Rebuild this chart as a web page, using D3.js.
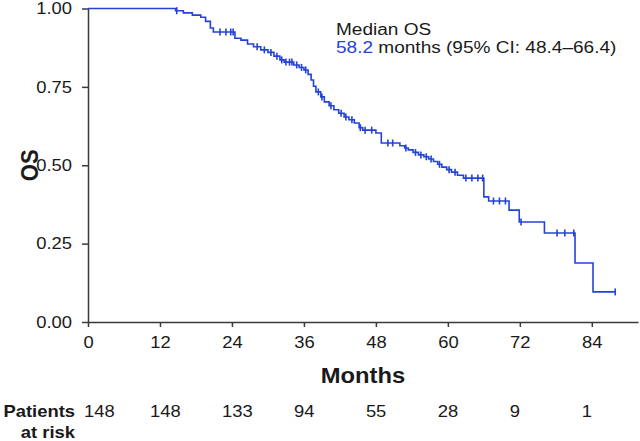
<!DOCTYPE html>
<html>
<head>
<meta charset="utf-8">
<script src="https://cdn.jsdelivr.net/npm/d3@7"></script>
<style>
  body { margin: 0; background: #fff; }
  svg { display: block; font-family: "Liberation Sans", Arial, sans-serif; }
</style>
</head>
<body>
<div id="chart"></div>
<script>
// Kaplan-Meier steps
const eventMonths = [14.6, 15.9, 17.4, 18.8, 19.6, 20.4, 20.9, 24.5, 25.5, 26.6, 27.6, 28.8, 30.0, 31.0, 32.0, 32.7,
  34.3, 35.2, 36.0, 36.7, 37.2, 37.6, 38.0, 38.8, 39.4, 40.2, 41.0, 41.8, 42.7, 43.5, 44.4, 45.2, 45.8, 48.0, 48.9,
  52.0, 52.8, 53.4, 54.2, 55.1, 56.0, 56.8, 57.6, 58.3, 59.0, 59.8, 60.6, 61.6, 62.6, 66.0, 66.8, 70.2, 71.9, 76.1,
  81.2, 84.2];
const survival = [0.993, 0.986, 0.979, 0.972, 0.959, 0.938, 0.925, 0.905, 0.899, 0.887, 0.878, 0.868, 0.860, 0.848,
  0.836, 0.829, 0.820, 0.812, 0.804, 0.790, 0.772, 0.752, 0.734, 0.718, 0.702, 0.690, 0.677, 0.666, 0.654, 0.645,
  0.635, 0.620, 0.612, 0.603, 0.571, 0.562, 0.555, 0.549, 0.541, 0.533, 0.527, 0.520, 0.512, 0.503, 0.494, 0.486,
  0.478, 0.468, 0.459, 0.399, 0.386, 0.357, 0.319, 0.284, 0.188, 0.096];
const censorMonths = [14.8, 22.0, 23.0, 23.8, 24.2, 28.2, 29.4, 30.5, 31.5, 32.3, 33.0, 33.6, 34.0, 34.8, 35.6, 36.3,
  38.4, 39.0, 40.5, 42.2, 43.0, 44.0, 45.4, 46.2, 47.3, 50.0, 50.8, 53.0, 54.6, 55.5, 56.4, 57.2, 58.6, 60.2, 61.2,
  63.0, 64.0, 65.0, 65.8, 67.6, 68.6, 69.6, 72.2, 78.2, 79.5, 81.0, 87.9];
const lastMonth = 87.9;

const yTicks = [0, 0.25, 0.5, 0.75, 1];
const xTicks = [0, 12, 24, 36, 48, 60, 72, 84];
const riskMonths = [0, 12, 24, 36, 48, 60, 72, 84];
const atRisk = [148, 148, 133, 94, 55, 28, 9, 1];

const width = 640, height = 441;
const blue = '#2443d6';
const axisColor = '#3a3a3a';
const sx = 1.15; // text in the picture is slightly stretched sideways

const svg = d3.select('#chart').append('svg')
    .attr('width', width)
    .attr('height', height);

const x = d3.scaleLinear().domain([0, 91.7]).range([88, 638]);
const y = d3.scaleLinear().domain([0, 1]).range([322, 8.5]);

function survAt(t) {
    let s = 1;
    eventMonths.forEach((m, i) => { if (m <= t) s = survival[i]; });
    return s;
}

// axes
const xAxis = svg.append('g')
    .attr('transform', `translate(0,${y(0)})`)
    .call(d3.axisBottom(x).tickValues(xTicks).tickSize(5).tickSizeOuter(0).tickPadding(10));
const yAxis = svg.append('g')
    .attr('transform', `translate(${x(0)},0)`)
    .call(d3.axisLeft(y).tickValues(yTicks).tickFormat(d3.format('.2f')).tickSize(6).tickSizeOuter(0).tickPadding(10));

[xAxis, yAxis].forEach(g => {
    g.select('.domain').attr('stroke', axisColor).attr('stroke-width', 1.5);
    g.selectAll('.tick line').attr('stroke', axisColor).attr('stroke-width', 1.5);
    g.selectAll('.tick text')
        .attr('fill', '#1a1a1a')
        .attr('font-size', 16)
        .attr('font-family', '"Liberation Sans", Arial, sans-serif');
});
xAxis.selectAll('.tick text').attr('transform', `scale(${sx},1)`);
yAxis.selectAll('.tick text')
    .attr('x', -16 / sx)
    .attr('transform', `scale(${sx},1)`);

// survival curve
const pts = [[0, 1]].concat(eventMonths.map((m, i) => [m, survival[i]]), [[lastMonth, survival[survival.length - 1]]]);
const line = d3.line()
    .x(d => x(d[0]))
    .y(d => y(d[1]))
    .curve(d3.curveStepAfter);

svg.append('path')
    .datum(pts)
    .attr('d', line)
    .attr('fill', 'none')
    .attr('stroke', blue)
    .attr('stroke-width', 1.6);

svg.append('g')
    .selectAll('line')
    .data(censorMonths)
    .enter().append('line')
    .attr('x1', d => x(d))
    .attr('x2', d => x(d))
    .attr('y1', d => y(survAt(d)) - 3.5)
    .attr('y2', d => y(survAt(d)) + 3.5)
    .attr('stroke', blue)
    .attr('stroke-width', 1.6);

// text helpers
function label(txt, px, py, opts = {}) {
    const t = svg.append('text')
        .attr('transform', `translate(${px},${py}) scale(${opts.stretch || sx},1)`)
        .attr('text-anchor', opts.anchor || 'start')
        .attr('font-size', opts.size || 16)
        .attr('font-weight', opts.bold ? 'bold' : 'normal')
        .attr('fill', opts.color || '#1a1a1a')
        .text(txt);
    return t;
}

label('Months', x(0) + (638 - 88) / 2, 383, { anchor: 'middle', size: 22, bold: true, stretch: 1.08 });

svg.append('text')
    .attr('transform', `translate(38,${y(0.5)}) rotate(-90) scale(1,1.08)`)
    .attr('text-anchor', 'middle')
    .attr('font-size', 22)
    .attr('font-weight', 'bold')
    .attr('fill', '#1a1a1a')
    .text('OS');

// median annotation
label('Median OS', 336, 35, { stretch: 1.19 });
const med = svg.append('text')
    .attr('transform', `translate(336,53) scale(1.19,1)`)
    .attr('font-size', 16)
    .attr('fill', '#1a1a1a');
med.append('tspan').attr('fill', blue).text('58.2');
med.append('tspan').text(' months (95% CI: 48.4\u201366.4)');

// patients at risk (numbers sit left-aligned just before each tick)
label('Patients', 75, 417, { anchor: 'end', bold: true });
label('at risk', 75, 438, { anchor: 'end', bold: true });

svg.append('g')
    .selectAll('text')
    .data(atRisk)
    .enter().append('text')
    .attr('transform', (d, i) => `translate(${x(riskMonths[i]) - (i === 0 ? 4 : 10)},417) scale(${sx},1)`)
    .attr('text-anchor', 'start')
    .attr('font-size', 16)
    .attr('fill', '#1a1a1a')
    .text(d => d);
</script>
</body>
</html>
